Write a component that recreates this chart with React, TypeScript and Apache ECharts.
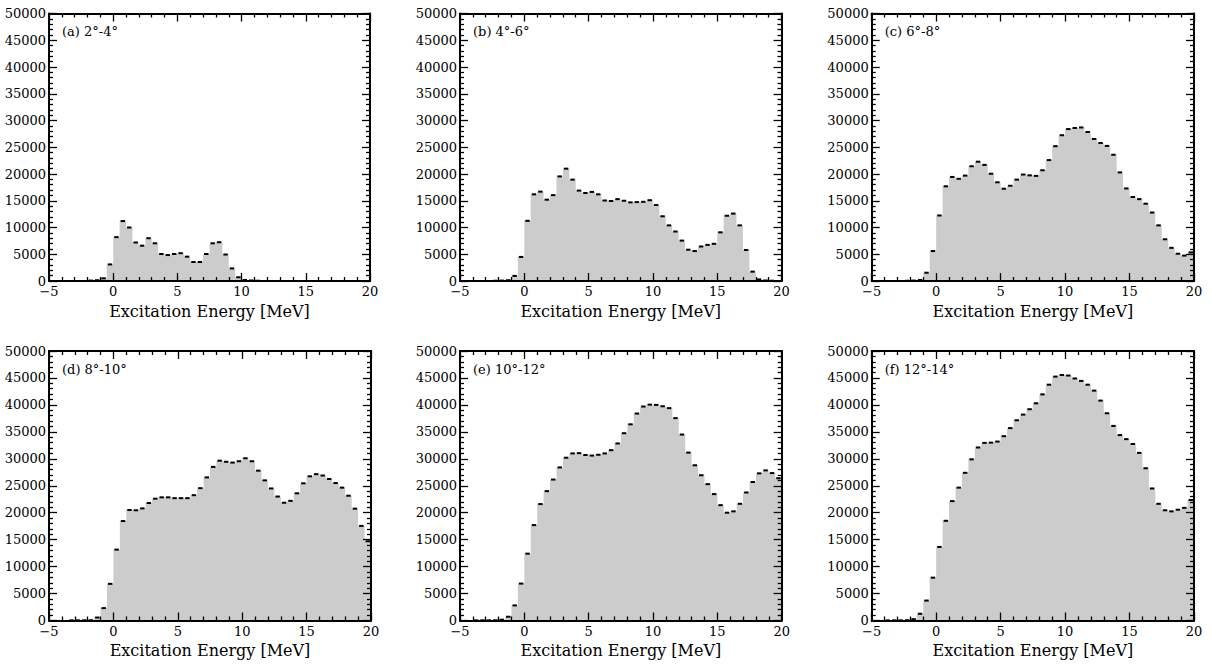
import React, { useEffect, useRef } from 'react';
import * as echarts from 'echarts';

// ---- data ----
const X_MIN = -5;
const X_MAX = 20;
const X_STEP = 5;
const BIN_WIDTH = 0.5;
const Y_MAX = 50000;
const Y_STEP = 5000;
const X_TITLE = 'Excitation Energy [MeV]';

const panelLabels = ['(a) 2°-4°', '(b) 4°-6°', '(c) 6°-8°', '(d) 8°-10°', '(e) 10°-12°', '(f) 12°-14°'];

// counts per 0.5 MeV bin, from -5 to 20 MeV (50 bins)
const countsA = [
  0, 0, 0, 0, 0, 0, 80, 150, 500, 3100,
  8200, 11200, 10000, 7200, 6600, 8000, 7050, 5050, 4850, 5050,
  5200, 4550, 3550, 3550, 5050, 7050, 7250, 4950, 2350, 700,
  200, 100, 50, 0, 0, 0, 0, 0, 0, 0,
  0, 0, 0, 0, 0, 0, 0, 0, 0, 0,
];
const countsB = [
  0, 0, 0, 0, 0, 50, 80, 150, 950, 4500,
  11250, 16200, 16700, 15200, 16050, 19550, 21000, 18950, 16900, 16450,
  16650, 16200, 15050, 14950, 15300, 15000, 14700, 14750, 14800, 15100,
  14200, 12100, 10400, 9250, 7550, 5850, 5600, 6450, 6750, 6950,
  9100, 12200, 12600, 10400, 5800, 1750, 300, 100, 50, 0,
];
const countsC = [
  0, 0, 0, 0, 0, 50, 80, 200, 1550, 5600,
  12250, 17700, 19450, 19100, 19700, 21450, 22300, 21700, 20050, 18450,
  17250, 17800, 18950, 19900, 19750, 19650, 20700, 22600, 25200, 27250,
  28400, 28600, 28700, 27850, 26550, 25800, 25250, 23600, 20300, 17300,
  15700, 15300, 14450, 12800, 10400, 7800, 6200, 5100, 4750, 5350,
];
const countsD = [
  0, 0, 0, 30, 30, 40, 50, 550, 2300, 6800,
  13150, 18450, 20500, 20450, 20800, 21800, 22600, 22850, 22850, 22700,
  22700, 22700, 23250, 24550, 26550, 28500, 29650, 29450, 29300, 29550,
  30100, 29550, 27800, 26000, 24500, 23000, 21850, 22200, 23600, 25450,
  26750, 27150, 26900, 26250, 25500, 24650, 23150, 20750, 17550, 14700,
];
const countsE = [
  0, 0, 20, 30, 30, 50, 150, 700, 2800, 6850,
  12400, 17700, 21600, 24000, 26150, 28400, 30200, 31000, 31050, 30700,
  30600, 30750, 31000, 31600, 32850, 34750, 36400, 38400, 39700, 40050,
  40000, 39750, 39400, 37550, 34500, 31150, 28800, 26950, 25300, 23450,
  21400, 20000, 20250, 21650, 23750, 25700, 27300, 27850, 27350, 26400,
];
const countsF = [
  0, 0, 20, 30, 30, 50, 250, 1250, 3700, 7950,
  13650, 18500, 22150, 24650, 27400, 29900, 32100, 32950, 33000, 33200,
  34200, 35700, 37150, 38200, 39200, 40300, 41950, 43750, 45250, 45550,
  45450, 44900, 44450, 43750, 42650, 40800, 38450, 36100, 34400, 33650,
  32750, 31100, 28250, 24500, 21650, 20450, 20250, 20550, 20900, 22350,
];
const panelCounts = [countsA, countsB, countsC, countsD, countsE, countsF];

// ---- layout ----
const layout = [
  { left: 49, top: 13.5, width: 321, height: 267.5 },
  { left: 460, top: 13.5, width: 321.5, height: 267.5 },
  { left: 871.7, top: 13.5, width: 322.3, height: 267.5 },
  { left: 49, top: 351, width: 322, height: 269.5 },
  { left: 460, top: 351, width: 321.7, height: 269.5 },
  { left: 871.7, top: 351, width: 322.3, height: 269.5 },
];

const FONT = 'DejaVu Serif';
const FILL = '#cccccc';

function fmtX(v: number) {
  return v < 0 ? '\u2212' + Math.abs(v) : String(v);
}
function fmtY(v: number) {
  return String(v);
}

function buildOption() {
  const grid: any[] = [];
  const xAxis: any[] = [];
  const yAxis: any[] = [];
  const series: any[] = [];
  const graphic: any[] = [];

  const common = (extra: any) => ({
    type: 'value',
    z: 10,
    axisLine: { show: true, onZero: false, lineStyle: { color: '#000', width: 2 } },
    axisTick: { show: true, inside: true, length: 8, lineStyle: { color: '#000', width: 1.3 } },
    minorTick: { show: true, splitNumber: 5, length: 4, lineStyle: { color: '#000', width: 1.3 } },
    splitLine: { show: false },
    minorSplitLine: { show: false },
    ...extra,
  });

  panelCounts.forEach((counts, i) => {
    const L = layout[i];
    grid.push({ left: L.left, top: L.top, width: L.width, height: L.height, containLabel: false });

    const xBase = { min: X_MIN, max: X_MAX, interval: X_STEP, gridIndex: i };
    xAxis.push(common({
      ...xBase,
      position: 'bottom',
      name: X_TITLE,
      nameLocation: 'middle',
      nameGap: 22,
      nameTextStyle: { fontFamily: FONT, fontSize: 16, color: '#000' },
      axisLabel: { show: true, margin: 4, fontFamily: FONT, fontSize: 13, color: '#000', formatter: fmtX },
    }));
    xAxis.push(common({ ...xBase, position: 'top', axisLabel: { show: false } }));

    const yBase = { min: 0, max: Y_MAX, interval: Y_STEP, gridIndex: i };
    yAxis.push(common({
      ...yBase,
      position: 'left',
      axisLabel: { show: true, margin: 3, fontFamily: FONT, fontSize: 13, color: '#000', formatter: fmtY },
    }));
    yAxis.push(common({ ...yBase, position: 'right', axisLabel: { show: false } }));

    const stepData: number[][] = counts.map((c, k) => [X_MIN + k * BIN_WIDTH, c]);
    stepData.push([X_MAX, counts[counts.length - 1]]);

    series.push({
      type: 'line',
      xAxisIndex: 2 * i,
      yAxisIndex: 2 * i,
      step: 'end',
      symbol: 'none',
      silent: true,
      z: 2,
      data: stepData,
      lineStyle: { width: 0, opacity: 0 },
      areaStyle: { color: FILL, opacity: 1 },
    });

    series.push({
      type: 'custom',
      xAxisIndex: 2 * i,
      yAxisIndex: 2 * i,
      silent: true,
      z: 3,
      encode: { x: [0, 1], y: 2 },
      data: counts.map((c, k) => [X_MIN + k * BIN_WIDTH, X_MIN + (k + 1) * BIN_WIDTH, c]),
      renderItem: (params: any, api: any) => {
        const x0 = api.value(0);
        const x1 = api.value(1);
        const v = api.value(2);
        if (!v) return null;
        const p0 = api.coord([x0, v]);
        const p1 = api.coord([x1, v]);
        return {
          type: 'line',
          shape: { x1: p0[0] + 1, y1: p0[1], x2: p1[0] - 1, y2: p1[1] },
          style: { stroke: '#000', lineWidth: 2 },
        };
      },
    });

    graphic.push({
      type: 'text',
      x: L.left + 13,
      y: L.top + 18,
      z: 20,
      style: {
        text: panelLabels[i],
        fill: '#000',
        font: '13px ' + FONT,
        align: 'left',
        verticalAlign: 'middle',
      },
    });
  });

  return {
    animation: false,
    backgroundColor: '#ffffff',
    grid,
    xAxis,
    yAxis,
    series,
    graphic,
  };
}

export default function App() {
  const ref = useRef<HTMLDivElement>(null);
  useEffect(() => {
    const chart = echarts.init(ref.current as HTMLDivElement, null, { renderer: 'svg' });
    chart.setOption(buildOption() as any);
    return () => chart.dispose();
  }, []);
  return (
    <div
      ref={ref}
      style={{ position: 'fixed', left: 0, top: 0, width: 1212, height: 668, background: '#fff' }}
    />
  );
}
